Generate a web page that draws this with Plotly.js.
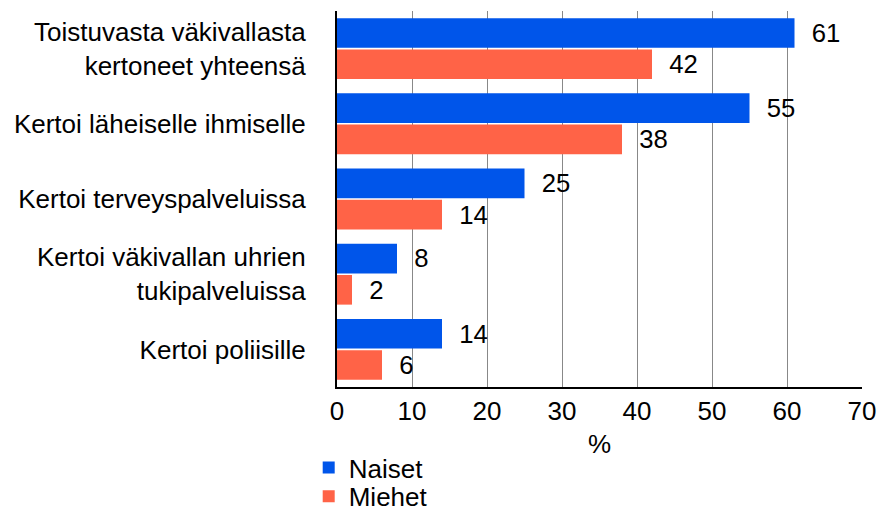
<!DOCTYPE html>
<html>
<head>
<meta charset="utf-8">
<script src="https://cdn.plot.ly/plotly-3.0.1.min.js"></script>
<style>html,body{margin:0;padding:0;background:#fff;}#chart{width:882px;height:508px;}</style>
</head>
<body>
<div id="chart"></div>
<script>
const categories = [
  "Toistuvasta väkivallasta<br>kertoneet yhteensä",
  "Kertoi läheiselle ihmiselle",
  "Kertoi terveyspalveluissa",
  "Kertoi väkivallan uhrien<br>tukipalveluissa",
  "Kertoi poliisille"
];
const naiset = [61, 55, 25, 8, 14];
const miehet = [42, 38, 14, 2, 6];
const xTicks = [0, 10, 20, 30, 40, 50, 60, 70];

const font = {family: "Liberation Sans, Arial, sans-serif", size: 26, color: "#000"};
const pad = "\u00a0\u00a0";

const traces = [
  {type: "bar", orientation: "h", name: "Naiset", y: categories, x: naiset,
   marker: {color: "#0055EA"}, text: naiset.map(v => pad + v), textposition: "outside",
   textfont: font, cliponaxis: false, legend: "legend"},
  {type: "bar", orientation: "h", name: "Miehet", y: categories, x: miehet,
   marker: {color: "#FF6347"}, text: miehet.map(v => pad + v), textposition: "outside",
   textfont: font, cliponaxis: false, legend: "legend2"}
];

const legendBase = {orientation: "v", xref: "container", yref: "container",
  x: 0.35, xanchor: "left", yanchor: "top", font: font, itemwidth: 30,
  bgcolor: "rgba(0,0,0,0)"};

const layout = {
  width: 882, height: 508,
  margin: {l: 337, r: 20, t: 11, b: 121, autoexpand: false},
  paper_bgcolor: "#fff", plot_bgcolor: "#fff",
  font: font,
  barmode: "group", bargap: 0.17, bargroupgap: 0.05,
  showlegend: true,
  legend: Object.assign({}, legendBase, {y: 0.126}),
  legend2: Object.assign({}, legendBase, {y: 0.069}),
  xaxis: {range: [0, 70], tickvals: xTicks, ticktext: xTicks.map(String),
          showgrid: true, gridcolor: "#888", gridwidth: 1, zeroline: false,
          showline: true, linecolor: "#000", linewidth: 2, ticks: "", automargin: false,
          tickfont: font, title: {text: "%", font: font, standoff: 10}},
  yaxis: {autorange: "reversed", showline: true, linecolor: "#000", linewidth: 2,
          ticks: "", showgrid: false, tickfont: font, ticklabelstandoff: 24, automargin: false}
};

Plotly.newPlot("chart", traces, layout, {displayModeBar: false, staticPlot: true});
</script>
</body>
</html>
